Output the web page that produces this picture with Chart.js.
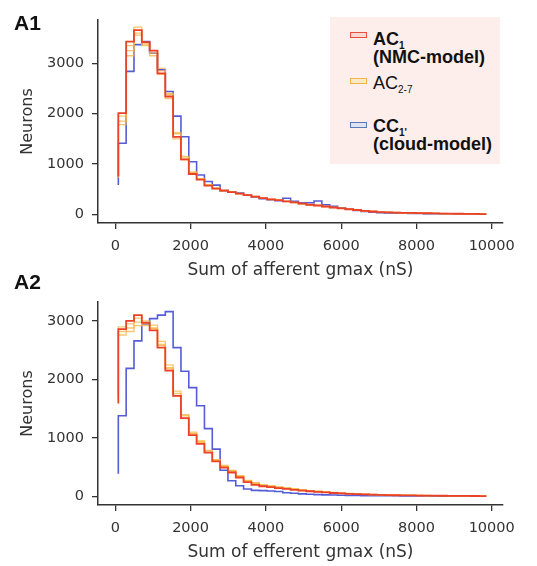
<!DOCTYPE html>
<html>
<head>
<meta charset="utf-8">
<script src="https://cdn.jsdelivr.net/npm/chart.js@4.4.1/dist/chart.umd.min.js"></script>
<style>
body { margin: 0; background: #fff; }
#wrap { position: relative; width: 537px; height: 566px; overflow: hidden; font-family: "Liberation Sans", Arial, sans-serif; }
canvas { position: absolute; left: 0; }
#chartA1 { top: 0; }
#chartA2 { top: 282px; }
.panel { position: absolute; left: 14px; font-weight: bold; font-size: 21px; line-height: 21px; color: #111; }
#legend { position: absolute; left: 330px; top: 17px; width: 170px; height: 147px; background: #fdeeec; }
.sw { position: absolute; left: 20px; width: 17px; height: 6px; box-sizing: border-box; border: 1.5px solid; }
.lab { position: absolute; left: 43px; font-size: 18px; line-height: 18px; color: #111; white-space: nowrap; }
.lab sub { font-size: 10px; vertical-align: -4px; line-height: 0; }
</style>
</head>
<body>
<div id="wrap">
  <canvas id="chartA1" width="537" height="283"></canvas>
  <canvas id="chartA2" width="537" height="283"></canvas>
  <div class="panel" style="top:12px">A1</div>
  <div class="panel" style="top:271px">A2</div>
  <div id="legend">
    <div class="sw" style="top:15px; border-color:#e8503c; background:#fbd9d2"></div>
    <div class="lab" style="top:13px; font-weight:bold">AC<sub>1</sub><br>(NMC-model)</div>
    <div class="sw" style="top:61px; border-color:#f2b34c; background:#fde9c8"></div>
    <div class="lab" style="top:57px">AC<sub>2-7</sub></div>
    <div class="sw" style="top:105px; border-color:#5a78b8; background:#dde3f2"></div>
    <div class="lab" style="top:100px; font-weight:bold">CC<sub>1'</sub><br>(cloud-model)</div>
  </div>
</div>
<script>
// bins shared by all curves (nS)
const binStart = 80;
const binWidth = 208;
const xTicks = [0, 2000, 4000, 6000, 8000, 10000];
const yTicks = [0, 1000, 2000, 3000];

// A1: sum of afferent gmax
const ac1Afferent = [750, 2010, 3430, 3660, 3420, 3250, 2800, 2340, 1540, 1090, 800, 690, 570, 510, 470, 440,
  410, 380, 350, 320, 295, 280, 255, 235, 210, 190, 175, 155, 135, 118, 100, 85,
  68, 55, 45, 40, 35, 30, 27, 24, 21, 18, 15, 13, 11, 9, 7, 5];
const ac2Afferent = [720, 1950, 3350, 3720, 3380, 3200, 2850, 2380, 1600, 1120, 820, 700, 580, 515, 470, 440,
  415, 385, 355, 325, 300, 282, 258, 238, 214, 194, 178, 158, 138, 120, 102, 86,
  70, 57, 47, 41, 36, 31, 28, 25, 22, 19, 16, 14, 12, 10, 8, 6];
const ac4Afferent = [800, 1850, 3250, 3600, 3350, 3150, 2900, 2300, 1500, 1150, 840, 710, 590, 520, 480, 445,
  412, 378, 348, 318, 292, 276, 252, 232, 208, 188, 172, 152, 132, 116, 98, 83,
  66, 54, 44, 39, 34, 30, 26, 23, 20, 17, 15, 13, 11, 9, 7, 5];
const ac6Afferent = [760, 1780, 3150, 3560, 3400, 3250, 2780, 2400, 1620, 1080, 810, 695, 575, 512, 468, 438,
  408, 382, 352, 322, 297, 279, 256, 236, 212, 192, 176, 156, 136, 119, 100, 84,
  67, 56, 45, 40, 35, 30, 27, 24, 21, 18, 15, 13, 11, 9, 7, 5];
const cc1Afferent = [580, 1410, 2840, 3370, 3430, 3200, 2870, 2440, 1950, 1540, 1045, 780, 650, 580, 470, 440,
  420, 380, 340, 310, 290, 270, 320, 260, 230, 230, 265, 190, 160, 130, 100, 78,
  58, 40, 32, 26, 22, 20, 18, 16, 14, 12, 11, 10, 8, 7, 6, 5];

// A2: sum of efferent gmax
const ac1Efferent = [1590, 2860, 3000, 3100, 2970, 2840, 2545, 2150, 1720, 1340, 1050, 900, 750, 600, 495, 410,
  325, 245, 200, 175, 160, 145, 130, 115, 100, 90, 80, 70, 60, 52, 45, 40,
  35, 31, 28, 25, 22, 20, 18, 16, 15, 14, 13, 12, 11, 10, 9, 8];
const ac2Efferent = [1750, 2820, 2880, 2980, 2950, 2930, 2650, 2200, 1800, 1380, 1100, 950, 780, 610, 520, 440,
  350, 270, 230, 195, 178, 160, 144, 128, 112, 100, 88, 77, 67, 58, 50, 44,
  38, 34, 30, 27, 24, 22, 20, 18, 16, 15, 14, 13, 12, 11, 10, 9];
const ac4Efferent = [1700, 2760, 2820, 2920, 3000, 2880, 2600, 2250, 1720, 1400, 1080, 920, 760, 630, 510, 430,
  340, 262, 222, 190, 172, 156, 140, 124, 108, 96, 85, 74, 64, 56, 48, 42,
  37, 33, 29, 26, 23, 21, 19, 17, 16, 15, 14, 13, 12, 11, 10, 9];
const ac6Efferent = [1650, 2900, 2950, 3050, 2920, 2870, 2580, 2180, 1760, 1330, 1070, 940, 790, 620, 530, 445,
  355, 275, 235, 200, 180, 162, 146, 130, 114, 102, 90, 79, 69, 60, 52, 45,
  39, 35, 31, 28, 25, 22, 20, 18, 17, 15, 14, 13, 12, 11, 10, 9];
const cc1Efferent = [390, 1380, 2190, 2660, 2950, 3040, 3100, 3160, 2545, 2140, 1860, 1550, 1160, 810, 450, 270,
  185, 128, 105, 100, 95, 85, 65, 55, 45, 38, 32, 28, 25, 22, 20, 18,
  16, 15, 14, 13, 12, 11, 10, 9, 8, 7, 7, 6, 6, 5, 5, 4];

const binEdges = ac1Afferent.map((_, i) => binStart + i * binWidth);

const RED = 'rgb(234, 66, 40)';
const ORANGE = 'rgba(247, 178, 62, 0.75)';
const BLUE = 'rgb(84, 92, 214)';
const TEXT = '#333';
const FONT = '"DejaVu Sans", Verdana, sans-serif';

function toPoints(values) {
  return values.map((v, i) => ({ x: binEdges[i], y: v }));
}

function line(values, color, width) {
  return {
    data: toPoints(values),
    borderColor: color,
    borderWidth: width,
    stepped: 'after',
    pointRadius: 0,
    fill: false
  };
}

function makeChart(id, red, oranges, blue, yMin, yMax, xTitle) {
  // first dataset is painted last, so red ends up on top
  const datasets = [line(red, RED, 1.8)]
    .concat(oranges.map(o => line(o, ORANGE, 1.3)))
    .concat([line(blue, BLUE, 1.6)]);

  const axisGrid = { display: true, drawOnChartArea: false, drawTicks: true, tickLength: 6, color: TEXT, lineWidth: 1.3 };
  const axisBorder = { display: true, color: TEXT, width: 1.5 };

  return new Chart(document.getElementById(id), {
    type: 'line',
    data: { datasets },
    options: {
      responsive: false,
      animation: false,
      devicePixelRatio: 1,
      layout: { padding: { top: 20, right: 34, left: 0, bottom: 0 } },
      plugins: { legend: { display: false }, tooltip: { enabled: false } },
      scales: {
        x: {
          type: 'linear',
          min: -460,
          max: 10300,
          afterBuildTicks: s => { s.ticks = xTicks.map(v => ({ value: v })); },
          afterFit: s => { s.height = 60; },
          grid: axisGrid,
          border: axisBorder,
          ticks: { font: { family: FONT, size: 14.5 }, color: TEXT, padding: 9, maxRotation: 0, autoSkip: false, callback: v => String(v) },
          title: { display: true, text: xTitle, font: { family: FONT, size: 17 }, color: TEXT, padding: { top: 0, bottom: 2 } }
        },
        y: {
          type: 'linear',
          min: yMin,
          max: yMax,
          afterBuildTicks: s => { s.ticks = yTicks.map(v => ({ value: v })); },
          afterFit: s => { s.width = 98; },
          grid: axisGrid,
          border: axisBorder,
          ticks: { font: { family: FONT, size: 14.5 }, color: TEXT, padding: 8, autoSkip: false, callback: v => String(v) },
          title: { display: true, text: 'Neurons', font: { family: FONT, size: 16 }, color: TEXT, padding: { top: 18, bottom: 0 } }
        }
      }
    }
  });
}

makeChart('chartA1', ac1Afferent, [ac2Afferent, ac4Afferent, ac6Afferent], cc1Afferent, -173, 3860, 'Sum of afferent gmax (nS)');
makeChart('chartA2', ac1Efferent, [ac2Efferent, ac4Efferent, ac6Efferent], cc1Efferent, -145, 3324, 'Sum of efferent gmax (nS)');
</script>
</body>
</html>
